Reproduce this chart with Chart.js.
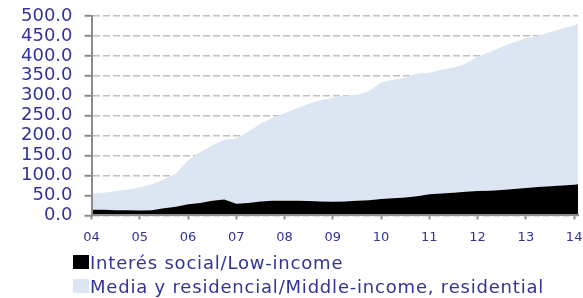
<!DOCTYPE html>
<html>
<head>
<meta charset="utf-8">
<script src="https://cdn.jsdelivr.net/npm/chart.js@4"></script>
<style>
    body { margin: 0; background: #fff; }
    #wrap { position: relative; width: 583px; height: 298px; }
    #box { position: absolute; left: 0; top: 0; width: 583px; height: 260px; }
    #legend { position: absolute; left: 73px; top: 250px; font-family: "DejaVu Sans", sans-serif; font-size: 18px; letter-spacing: 0.8px; color: #333399; }
    .row { height: 24px; display: flex; align-items: center; white-space: nowrap; }
    .sw { width: 16px; height: 14px; margin-right: 1px; }
</style>
</head>
<body>
<div id="wrap">
    <div id="box"><canvas id="myChart"></canvas></div>
    <div id="legend"></div>
</div>
<script>
// quarterly points, decimal years (last one ~Feb 2014)
var quarters = [2004, 2004.25, 2004.5, 2004.75, 2005, 2005.25, 2005.5, 2005.75,
    2006, 2006.25, 2006.5, 2006.75, 2007, 2007.25, 2007.5, 2007.75,
    2008, 2008.25, 2008.5, 2008.75, 2009, 2009.25, 2009.5, 2009.75,
    2010, 2010.25, 2010.5, 2010.75, 2011, 2011.25, 2011.5, 2011.75,
    2012, 2012.25, 2012.5, 2012.75, 2013, 2013.25, 2013.5, 2013.75, 2014, 2014.08];

var lowIncome = [14, 14, 13, 13, 12, 13, 18, 22,
    28, 31, 37, 40, 29, 31, 35, 37,
    37, 37, 36, 35, 34, 35, 37, 38,
    41, 43, 45, 48, 53, 55, 57, 59,
    61, 62, 64, 66, 69, 71, 73, 75, 77, 78];

var middleIncome = [41, 43, 48, 52, 58, 65, 72, 83,
    110, 128, 138, 150, 164, 179, 195, 208,
    219, 231, 244, 254, 261, 265, 265, 274,
    292, 297, 300, 308, 305, 310, 314, 321,
    337, 348, 358, 368, 375, 379, 387, 393, 400, 402];

var seriesNames = ['Interés social/Low-income', 'Media y residencial/Middle-income, residential'];
var seriesColors = ['#000000', '#dce6f2'];

var yTicks = [0, 50, 100, 150, 200, 250, 300, 350, 400, 450, 500];

var textColor = '#333399';
var axisColor = '#8c8c8c';

function pts(vals) {
    return vals.map(function (v, i) { return { x: quarters[i], y: v }; });
}

var ctx = document.getElementById('myChart').getContext('2d');
new Chart(ctx, {
    type: 'line',
    data: {
        datasets: [{
            label: seriesNames[0],
            data: pts(lowIncome),
            backgroundColor: seriesColors[0],
            borderWidth: 0,
            pointRadius: 0,
            fill: 'origin'
        }, {
            label: seriesNames[1],
            data: pts(middleIncome),
            backgroundColor: seriesColors[1],
            borderWidth: 0,
            pointRadius: 0,
            fill: '-1'
        }]
    },
    options: {
        responsive: true,
        maintainAspectRatio: false,
        animation: false,
        layout: { padding: { left: 9, top: 16, right: 0, bottom: 5 } },
        plugins: {
            legend: { display: false },
            tooltip: { enabled: false }
        },
        scales: {
            x: {
                type: 'linear',
                min: 2004,
                max: 2014.08,
                afterBuildTicks: function (axis) {
                    axis.ticks = quarters.filter(function (q) { return q % 1 === 0; })
                        .map(function (q) { return { value: q }; });
                },
                afterFit: function (axis) {
                    axis.paddingLeft = 0;
                    axis.paddingRight = 5;
                },
                ticks: {
                    color: textColor,
                    font: { family: 'DejaVu Sans', size: 13 },
                    padding: 10,
                    maxRotation: 0,
                    autoSkip: false,
                    callback: function (v) { return String(v).slice(2); }
                },
                grid: { drawOnChartArea: false, tickLength: 4, tickColor: axisColor, tickWidth: 2 },
                border: { color: axisColor, width: 2, z: 1 }
            },
            y: {
                stacked: true,
                min: 0,
                max: 500,
                afterBuildTicks: function (axis) {
                    axis.ticks = yTicks.map(function (v) { return { value: v }; });
                },
                afterFit: function (axis) {
                    axis.paddingTop = 0;
                    axis.paddingBottom = 0;
                },
                ticks: {
                    color: textColor,
                    font: { family: 'DejaVu Sans', size: 18 },
                    padding: 12,
                    autoSkip: false,
                    callback: function (v) { return Number(v).toFixed(1); }
                },
                grid: {
                    color: '#c0c0c0',
                    lineWidth: 1.5,
                    tickLength: 7,
                    tickColor: axisColor,
                    tickWidth: 2,
                    tickBorderDash: [1, 0]
                },
                border: { color: axisColor, width: 2, dash: [7, 3], z: 1 }
            }
        }
    }
});

// legend rows, one per series
var legend = document.getElementById('legend');
seriesNames.forEach(function (name, i) {
    var row = document.createElement('div');
    row.className = 'row';
    var sw = document.createElement('span');
    sw.className = 'sw';
    sw.style.background = seriesColors[i];
    row.appendChild(sw);
    row.appendChild(document.createTextNode(name));
    legend.appendChild(row);
});
</script>
</body>
</html>
